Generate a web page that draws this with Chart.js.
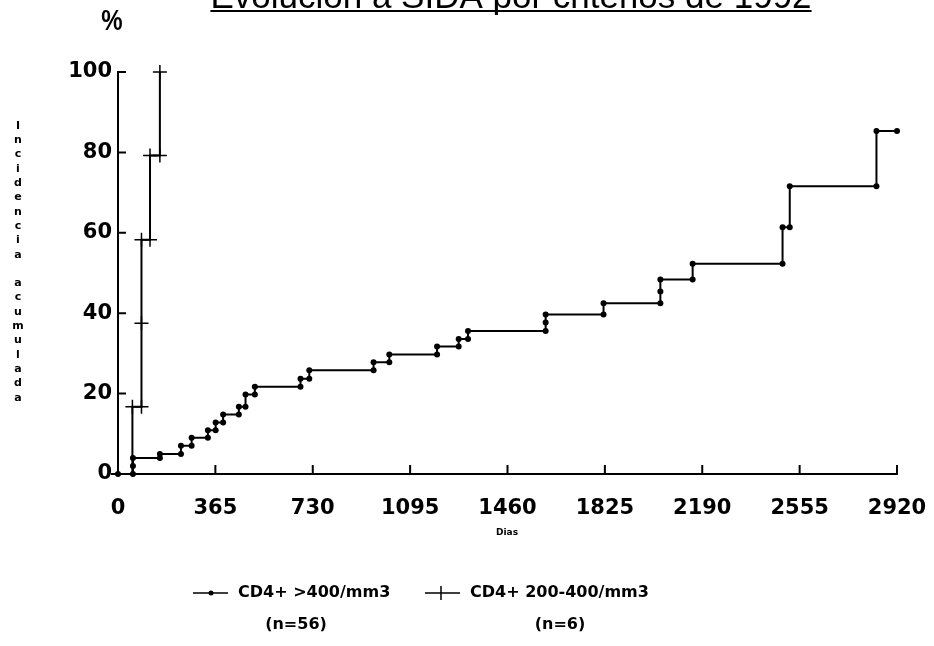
<!DOCTYPE html>
<html lang="es">
<head>
<meta charset="utf-8">
<title>Evolución a SIDA por criterios de 1992</title>
<script src="https://cdn.jsdelivr.net/npm/chart.js@4.4.1/dist/chart.umd.min.js"></script>
<style>
  html, body { margin: 0; padding: 0; background: #fff; }
  #wrap { width: 934px; height: 646px; }
</style>
</head>
<body>
<div id="wrap"><canvas id="kmChart" width="934" height="646"></canvas></div>
<script>
// Incidencia acumulada (%) por días (esquinas de cada escalón)
const dias400 = [0, 56, 56, 56, 157, 157, 236, 236, 276, 276, 337, 337, 366, 366, 394, 394, 453, 453,
  478, 478, 513, 513, 684, 684, 717, 717, 958, 958, 1017, 1017, 1196, 1196, 1277, 1277, 1312, 1312,
  1603, 1603, 1603, 1820, 1820, 2033, 2033, 2033, 2154, 2154, 2491, 2491, 2518, 2518, 2843, 2843, 2920];
const inc400 = [0, 0, 2, 4, 4, 5, 5, 7, 7, 9, 9, 10.9, 10.9, 12.8, 12.8, 14.8, 14.8, 16.7,
  16.7, 19.8, 19.8, 21.7, 21.7, 23.7, 23.7, 25.8, 25.8, 27.8, 27.8, 29.7, 29.7, 31.7, 31.7, 33.6, 33.6, 35.6,
  35.6, 37.7, 39.7, 39.7, 42.5, 42.5, 45.4, 48.4, 48.4, 52.3, 52.3, 61.4, 61.4, 71.6, 71.6, 85.3, 85.3];

const dias200 = [0, 54, 54, 88, 88, 88, 120, 120, 157, 157];
const inc200 = [0, 0, 16.7, 16.7, 37.5, 58.3, 58.3, 79.2, 79.2, 100];

const ticksDias = [0, 365, 730, 1095, 1460, 1825, 2190, 2555, 2920];
const ticksInc = [0, 20, 40, 60, 80, 100];

const titulo = 'Evolución a SIDA por criterios de 1992';
const tituloY = 'Incidencia acumulada';
const tituloX = 'Dias';
const series = ['CD4+ >400/mm3', 'CD4+ 200-400/mm3'];
const tamanos = ['(n=56)', '(n=6)'];

const toXY = (xs, ys) => xs.map((x, i) => ({ x: x, y: ys[i] }));

// textos, marcas hacia dentro y leyenda de dos líneas
const decoracion = {
  id: 'decoracion',
  afterDraw(chart) {
    const ctx = chart.ctx;
    const xs = chart.scales.x, ys = chart.scales.y;
    const left = chart.chartArea.left, bottom = chart.chartArea.bottom;
    ctx.save();
    ctx.fillStyle = '#000';
    ctx.strokeStyle = '#000';

    // título subrayado (cortado arriba como en el original)
    ctx.font = '35px "Liberation Sans", Arial, sans-serif';
    ctx.textAlign = 'center';
    ctx.textBaseline = 'alphabetic';
    ctx.fillText(titulo, 511, 8);
    const w = ctx.measureText(titulo).width;
    ctx.fillRect(511 - w / 2, 10, w, 2);

    // %
    ctx.save();
    ctx.translate(112, 22);
    ctx.scale(0.8, 1);
    ctx.font = 'bold 30px "Liberation Sans", Arial, sans-serif';
    ctx.textBaseline = 'middle';
    ctx.fillText('%', 0, 0);
    ctx.restore();

    // título eje Y, letras apiladas
    ctx.font = 'bold 11px "DejaVu Sans", sans-serif';
    ctx.textBaseline = 'middle';
    tituloY.split('').forEach((c, i) => ctx.fillText(c, 18, 126 + i * 14.3));

    // título eje X
    ctx.font = 'bold 9px "DejaVu Sans", sans-serif';
    ctx.fillText(tituloX, 507, 533);

    // marcas de los ejes hacia dentro
    ctx.lineWidth = 2;
    ctx.beginPath();
    ticksInc.forEach(v => {
      const y = ys.getPixelForValue(v);
      if (v > 0) { ctx.moveTo(left, y); ctx.lineTo(left + 8, y); }
      else { ctx.moveTo(left - 7, y); ctx.lineTo(left, y); }
    });
    ticksDias.forEach(v => {
      if (v === 0) return;
      const x = xs.getPixelForValue(v);
      ctx.moveTo(x, bottom); ctx.lineTo(x, bottom - 9);
    });
    ctx.stroke();

    // leyenda
    ctx.font = 'bold 16px "DejaVu Sans", sans-serif';
    ctx.textBaseline = 'middle';
    ctx.lineWidth = 1.5;
    ctx.beginPath();
    ctx.moveTo(193, 593); ctx.lineTo(228, 593);
    ctx.moveTo(425, 593); ctx.lineTo(460, 593);
    ctx.moveTo(441, 586); ctx.lineTo(441, 600);
    ctx.stroke();
    ctx.beginPath();
    ctx.arc(211, 593, 2.5, 0, Math.PI * 2);
    ctx.fill();
    ctx.textAlign = 'left';
    ctx.fillText(series[0], 238, 593);
    ctx.fillText(series[1], 470, 593);
    ctx.textAlign = 'center';
    ctx.fillText(tamanos[0], 296, 625);
    ctx.fillText(tamanos[1], 560, 625);
    ctx.restore();
  }
};

const fuenteTicks = { family: '"DejaVu Sans", sans-serif', size: 21, weight: 'bold' };

new Chart(document.getElementById('kmChart'), {
  type: 'line',
  data: {
    datasets: [{
      label: series[0],
      data: toXY(dias400, inc400),
      stepped: true,
      borderColor: '#000',
      backgroundColor: '#000',
      borderWidth: 2,
      pointRadius: 3,
      pointBorderWidth: 0,
      clip: false
    }, {
      label: series[1],
      data: toXY(dias200, inc200),
      stepped: true,
      borderColor: '#000',
      backgroundColor: '#000',
      borderWidth: 2,
      pointStyle: 'cross',
      pointRadius: ctx => (ctx.raw && ctx.raw.y > 0 ? 7 : 0),
      pointBorderWidth: 1.5,
      clip: false
    }]
  },
  options: {
    responsive: false,
    animation: false,
    layout: { padding: { top: 72, right: 37, left: 0, bottom: 0 } },
    plugins: {
      legend: { display: false },
      title: { display: false },
      tooltip: { enabled: false }
    },
    scales: {
      x: {
        type: 'linear',
        min: 0,
        max: 2920,
        afterBuildTicks: s => { s.ticks = ticksDias.map(v => ({ value: v })); },
        afterFit: s => { s.height = 172; s.paddingLeft = 0; s.paddingRight = 0; },
        grid: { display: false, drawTicks: false },
        border: { display: true, color: '#000', width: 2 },
        ticks: { padding: 22, color: '#000', font: fuenteTicks, maxRotation: 0, callback: v => String(v) }
      },
      y: {
        min: 0,
        max: 100,
        afterBuildTicks: s => { s.ticks = ticksInc.map(v => ({ value: v })); },
        afterFit: s => { s.width = 118; s.paddingTop = 0; s.paddingBottom = 0; },
        grid: { display: false, drawTicks: false },
        border: { display: true, color: '#000', width: 2 },
        ticks: { padding: 6, color: '#000', font: fuenteTicks, callback: v => String(v) }
      }
    }
  },
  plugins: [decoracion]
});
</script>
</body>
</html>
